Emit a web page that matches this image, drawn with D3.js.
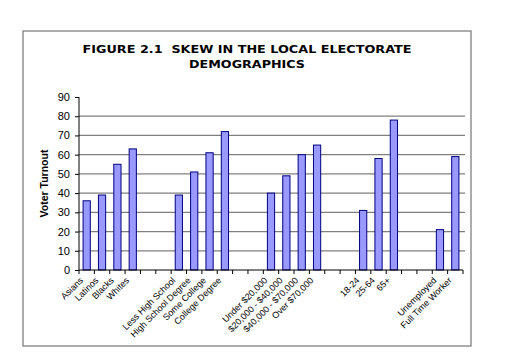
<!DOCTYPE html>
<html><head><meta charset="utf-8">
<script src="https://cdn.jsdelivr.net/npm/d3@7"></script>
<style>body{margin:0;background:#fff}svg{display:block}text{font-family:"Liberation Sans",Arial,sans-serif}</style>
</head><body>
<script>
const categories = ["Asians","Latinos","Blacks","Whites","","",
  "Less High School","High School Degree","Some College","College Degree","","",
  "Under $20,000","$20,000 - $40,000","$40,000 - $70,000","Over $70,000","","",
  "18-24","25-64","65+","","",
  "Unemployed","Full Time Worker"];
const values = [36,39,55,63,null,null,39,51,61,72,null,null,40,49,60,65,null,null,31,58,78,null,null,21,59];
const yTicks = [0,10,20,30,40,50,60,70,80,90];

(function(){
const W=519,H=362;
const svg=d3.select("body").append("svg").attr("width",W).attr("height",H);
svg.append("rect").attr("x",23).attr("y",31).attr("width",448).attr("height",315)
  .attr("fill","#fff").attr("stroke","#808080").attr("stroke-width",1.3);

const pL=79,pR=463,pT=97,pB=270;
const x=d3.scaleBand().domain(d3.range(categories.length)).range([pL,pR]).paddingInner(0);
const y=d3.scaleLinear().domain([0,90]).range([pB,pT]);

svg.append("g").selectAll("line").data(yTicks.filter(t=>t>0&&t<90)).join("line")
  .attr("x1",pL).attr("x2",pR+2).attr("y1",d=>y(d)).attr("y2",d=>y(d))
  .attr("stroke","#808080").attr("stroke-width",1.3);

const bw=x.bandwidth()*0.47;
svg.append("g").selectAll("rect").data(values.map((v,i)=>({v,i})).filter(d=>d.v!=null)).join("rect")
  .attr("x",d=>x(d.i)+x.bandwidth()/2-bw/2).attr("width",bw)
  .attr("y",d=>y(d.v)).attr("height",d=>pB-y(d.v))
  .attr("fill","#9999ff").attr("stroke","#000080").attr("stroke-width",1);

const ya=svg.append("g").attr("transform",`translate(${pL},0)`)
  .call(d3.axisLeft(y).tickValues(yTicks).tickSize(4).tickPadding(5));
ya.select(".domain").attr("stroke","#000").attr("d",`M0,${pT}V${pB}`);
ya.selectAll("text").attr("font-size",11).attr("fill","#000").style("font-family","'Liberation Sans',Arial,sans-serif");

const xa=svg.append("g").attr("transform",`translate(0,${pB})`);
xa.append("line").attr("x1",pL).attr("x2",pR).attr("stroke","#000");
xa.selectAll("line.t").data(d3.range(categories.length+1)).join("line").attr("class","t")
  .attr("x1",i=>pL+i*x.step()).attr("x2",i=>pL+i*x.step()).attr("y1",0).attr("y2",4).attr("stroke","#000");
xa.selectAll("text").data(categories.map((c,i)=>({c,i})).filter(d=>d.c)).join("text")
  .attr("text-anchor","end").attr("font-size",9).attr("fill","#000")
  .attr("transform",d=>`translate(${x(d.i)+x.bandwidth()/2-3},11) rotate(-45)`)
  .text(d=>d.c);

svg.append("text").attr("transform",`translate(48,${(pT+pB)/2}) rotate(-90)`)
  .attr("text-anchor","middle").attr("font-size",10.5).attr("font-weight","bold").text("Voter Turnout");

svg.append("text").attr("x",82.5).attr("y",53).attr("font-size",10.8)
  .attr("font-weight","bold").attr("textLength",329).attr("lengthAdjust","spacingAndGlyphs")
  .style("font-family","'DejaVu Sans',sans-serif")
  .style("white-space","pre").text("FIGURE 2.1  SKEW IN THE LOCAL ELECTORATE");
svg.append("text").attr("x",189).attr("y",68).attr("font-size",10.8)
  .attr("font-weight","bold").attr("textLength",116).attr("lengthAdjust","spacingAndGlyphs")
  .style("font-family","'DejaVu Sans',sans-serif").text("DEMOGRAPHICS");
})();
</script>
</body></html>
